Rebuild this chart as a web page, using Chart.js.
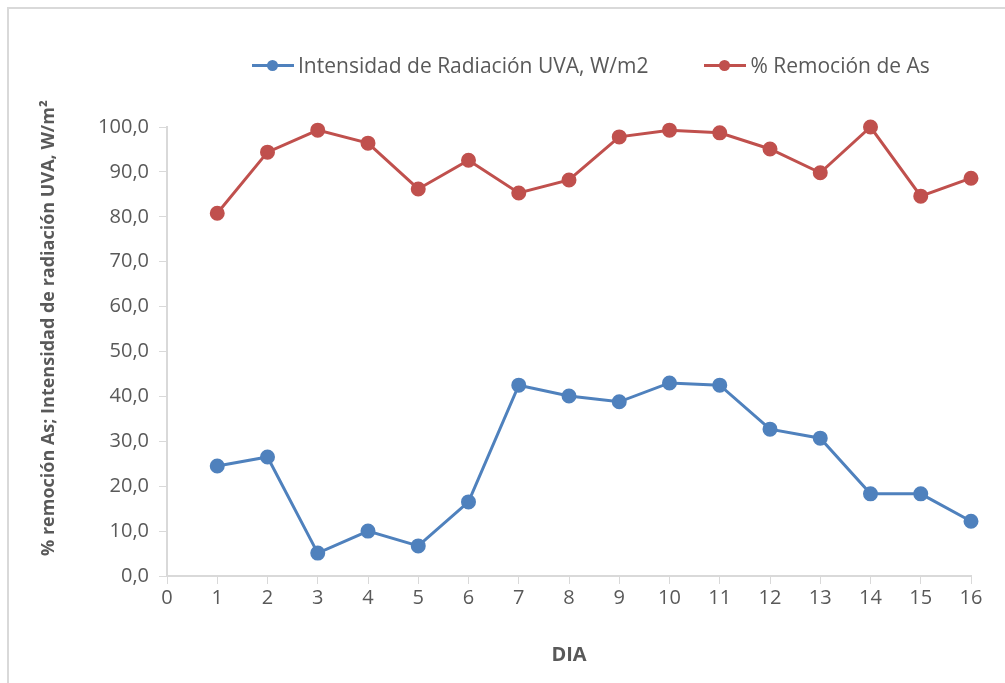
<!DOCTYPE html>
<html>
<head>
<meta charset="utf-8">
<script src="https://cdn.jsdelivr.net/npm/chart.js@4.4.0/dist/chart.umd.min.js"></script>
<style>
  body { margin: 0; background: #fff; font-family: "Open Sans", sans-serif; }
  #wrap { position: relative; width: 1005px; height: 683px; overflow: hidden; }
  #frame { position: absolute; left: 7px; top: 7px; width: 1100px; height: 800px;
           border-left: 2px solid #d9d9d9; border-top: 2px solid #d9d9d9; }
  #legend { position: absolute; top: 51px; left: 252px; font-size: 21px; color: #595959;
            display: flex; align-items: center; white-space: nowrap; }
  .item { display: flex; align-items: center; margin-right: 56px; }
  .mark { position: relative; width: 42px; height: 3px; margin-right: 4px; }
  .mark i { position: absolute; left: 15px; top: -4px; width: 11px; height: 11px; border-radius: 50%; }
</style>
</head>
<body>
<div id="wrap">
  <div id="frame"></div>
  <canvas id="chart" width="1005" height="683"></canvas>
  <div id="legend">
    <div class="item"><span class="mark" style="background:#4f81bd"><i style="background:#4f81bd"></i></span>Intensidad de Radiación UVA, W/m2</div>
    <div class="item"><span class="mark" style="background:#c0504d"><i style="background:#c0504d"></i></span>% Remoción de As</div>
  </div>
</div>
<script>
// data
const dias = [1, 2, 3, 4, 5, 6, 7, 8, 9, 10, 11, 12, 13, 14, 15, 16];
const radiacionUVA = [24.5, 26.5, 5.1, 10.0, 6.7, 16.5, 42.5, 40.1, 38.8, 43.0, 42.5, 32.7, 30.7, 18.3, 18.3, 12.2];
const remocionAs = [80.8, 94.4, 99.3, 96.4, 86.2, 92.6, 85.3, 88.2, 97.8, 99.3, 98.7, 95.1, 89.8, 100.0, 84.6, 88.6];
const serieNames = ['Intensidad de Radiación UVA, W/m2', '% Remoción de As'];

const grey = '#595959';
const axisGrey = '#d9d9d9';

function toPoints(values) {
    return dias.map((d, i) => ({ x: d, y: values[i] }));
}

// leading blanks push the rotated title up a little, as in the original
const yTitle = '\u00a0'.repeat(10) + '% remoción As; Intensidad de radiación UVA, W/m²';

const ctx = document.getElementById('chart').getContext('2d');
new Chart(ctx, {
    type: 'line',
    data: {
        datasets: [{
            label: serieNames[0],
            data: toPoints(radiacionUVA),
            borderColor: '#4f81bd',
            backgroundColor: '#4f81bd',
            borderWidth: 3,
            pointRadius: 6,
            pointHoverRadius: 6,
            clip: false
        }, {
            label: serieNames[1],
            data: toPoints(remocionAs),
            borderColor: '#c0504d',
            backgroundColor: '#c0504d',
            borderWidth: 3,
            pointRadius: 6,
            pointHoverRadius: 6,
            clip: false
        }]
    },
    options: {
        responsive: false,
        animation: false,
        layout: { padding: { left: 34, right: 34, top: 127, bottom: 12 } },
        plugins: { legend: { display: false }, tooltip: { enabled: false } },
        scales: {
            x: {
                type: 'linear',
                min: 0,
                max: 16,
                afterFit: (s) => { s.height = 95; },
                ticks: { stepSize: 1, color: grey, font: { family: 'Open Sans', size: 20 }, padding: 2 },
                grid: { drawOnChartArea: false, color: axisGrey, tickLength: 8 },
                border: { color: axisGrey, width: 2 },
                title: { display: true, text: 'DIA', color: grey, font: { family: 'Open Sans', size: 20, weight: 'bold' } }
            },
            y: {
                min: 0,
                max: 100,
                afterFit: (s) => { s.width = 133; },
                ticks: {
                    stepSize: 10,
                    color: grey,
                    font: { family: 'Open Sans', size: 20 },
                    padding: 10,
                    callback: (v) => v.toFixed(1).replace('.', ',')
                },
                grid: { drawOnChartArea: false, color: axisGrey, tickLength: 8 },
                border: { color: axisGrey, width: 2 },
                title: {
                    display: true,
                    text: yTitle,
                    color: grey,
                    font: { family: 'Open Sans', size: 18, weight: 'bold' }
                }
            }
        }
    }
});
</script>
</body>
</html>
